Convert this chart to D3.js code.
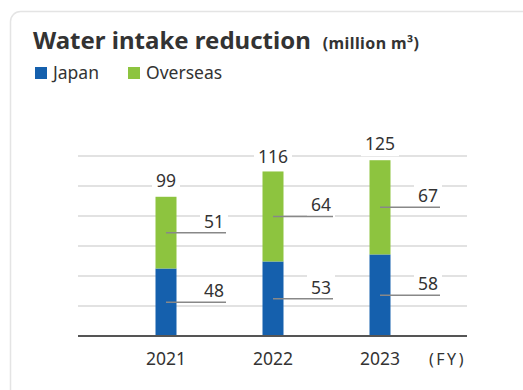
<!DOCTYPE html>
<meta charset="utf-8">
<script src="https://d3js.org/d3.v7.min.js"></script>
<style>
  body { margin: 0; background: #fff; }
  text { font-family: "Noto Sans", "Open Sans", sans-serif; fill: #333; }
</style>
<svg id="chart" width="523" height="390"></svg>
<script>
  // data
  var years = ["2021", "2022", "2023"];
  var japan = [48, 53, 58];
  var overseas = [51, 64, 67];
  var totals = [99, 116, 125];

  var svg = d3.select("#chart");

  // card border
  svg.append("rect")
    .attr("x", 10.5).attr("y", 11.5)
    .attr("width", 540).attr("height", 400)
    .attr("rx", 10)
    .attr("fill", "#fff")
    .attr("stroke", "#e4e4e4")
    .attr("stroke-width", 1.5);

  // title
  var title = svg.append("text")
    .attr("x", 33).attr("y", 49);
  title.append("tspan")
    .style("font-size", "24px").style("font-weight", "bold")
    .text("Water intake reduction");
  title.append("tspan")
    .attr("dx", 12)
    .style("font-size", "16px").style("font-weight", "bold")
    .style("letter-spacing", "0.4px")
    .text("(million m³)");

  // legend
  var legend = [["Japan", "#1560ad", 35], ["Overseas", "#8dc43f", 128]];
  var lg = svg.append("g").selectAll("g").data(legend).enter().append("g")
    .attr("transform", function (d) { return "translate(" + d[2] + ",67)"; });
  lg.append("rect").attr("width", 12).attr("height", 12).attr("fill", function (d) { return d[1]; });
  lg.append("text").attr("x", 18).attr("y", 11.5).style("font-size", "17.5px").text(function (d) { return d[0]; });

  // scales
  var x = d3.scalePoint().domain(years).range([166, 380]);
  var y = d3.scaleLinear().domain([0, 128]).range([336, 156]);
  var barW = 21;

  // gridlines
  svg.append("g").selectAll("line")
    .data(d3.range(1, 7).map(function (i) { return 128 * i / 6; }))
    .enter().append("line")
    .attr("x1", 78).attr("x2", 467)
    .attr("y1", function (d) { return y(d); })
    .attr("y2", function (d) { return y(d); })
    .attr("stroke", "#d9d9d9").attr("stroke-width", 1.5);

  var rows = years.map(function (yr, i) {
    return { year: yr, japan: japan[i], overseas: overseas[i], total: totals[i] };
  });

  // bars
  var bars = svg.append("g");
  bars.selectAll(".jp").data(rows).enter().append("rect")
    .attr("x", function (d) { return x(d.year) - barW / 2; })
    .attr("width", barW)
    .attr("y", function (d) { return y(d.japan); })
    .attr("height", function (d) { return y(0) - y(d.japan); })
    .attr("fill", "#1560ad");
  bars.selectAll(".os").data(rows).enter().append("rect")
    .attr("x", function (d) { return x(d.year) - barW / 2; })
    .attr("width", barW)
    .attr("y", function (d) { return y(d.japan + d.overseas); })
    .attr("height", function (d) { return y(d.japan) - y(d.japan + d.overseas); })
    .attr("fill", "#8dc43f");

  // label with white backing
  function label(g, tx, ty, txt, anchor) {
    var t = g.append("text")
      .attr("x", tx).attr("y", ty)
      .attr("text-anchor", anchor)
      .style("font-size", "17.5px")
      .text(txt);
    var b = t.node().getBBox();
    g.insert("rect", "text")
      .attr("x", b.x - 4).attr("y", b.y - 1)
      .attr("width", b.width + 8).attr("height", b.height + 2)
      .attr("fill", "#fff");
  }

  // segment labels with leader lines
  rows.forEach(function (d) {
    var cx = x(d.year);
    [[0, d.japan], [d.japan, d.overseas]].forEach(function (s) {
      var my = y(s[0] + s[1] / 2);
      var g = svg.append("g");
      label(g, cx + 58, my - 5, s[1], "end");
      svg.append("line")
        .attr("x1", cx).attr("x2", cx + 60)
        .attr("y1", my).attr("y2", my)
        .attr("stroke", "#888").attr("stroke-width", 1.5);
    });
    var g2 = svg.append("g");
    label(g2, cx, y(d.total) - 10, d.total, "middle");
  });

  // baseline
  svg.append("line")
    .attr("x1", 78).attr("x2", 467)
    .attr("y1", y(0)).attr("y2", y(0))
    .attr("stroke", "#555").attr("stroke-width", 2);

  // x axis labels
  svg.append("g").selectAll("text").data(years).enter().append("text")
    .attr("x", function (d) { return x(d); })
    .attr("y", 365)
    .attr("text-anchor", "middle")
    .style("font-size", "17.5px")
    .text(function (d) { return d; });
  svg.append("text")
    .attr("x", 429).attr("y", 365)
    .style("font-size", "16px")
    .style("letter-spacing", "2.5px")
    .text("(FY)");
</script>
